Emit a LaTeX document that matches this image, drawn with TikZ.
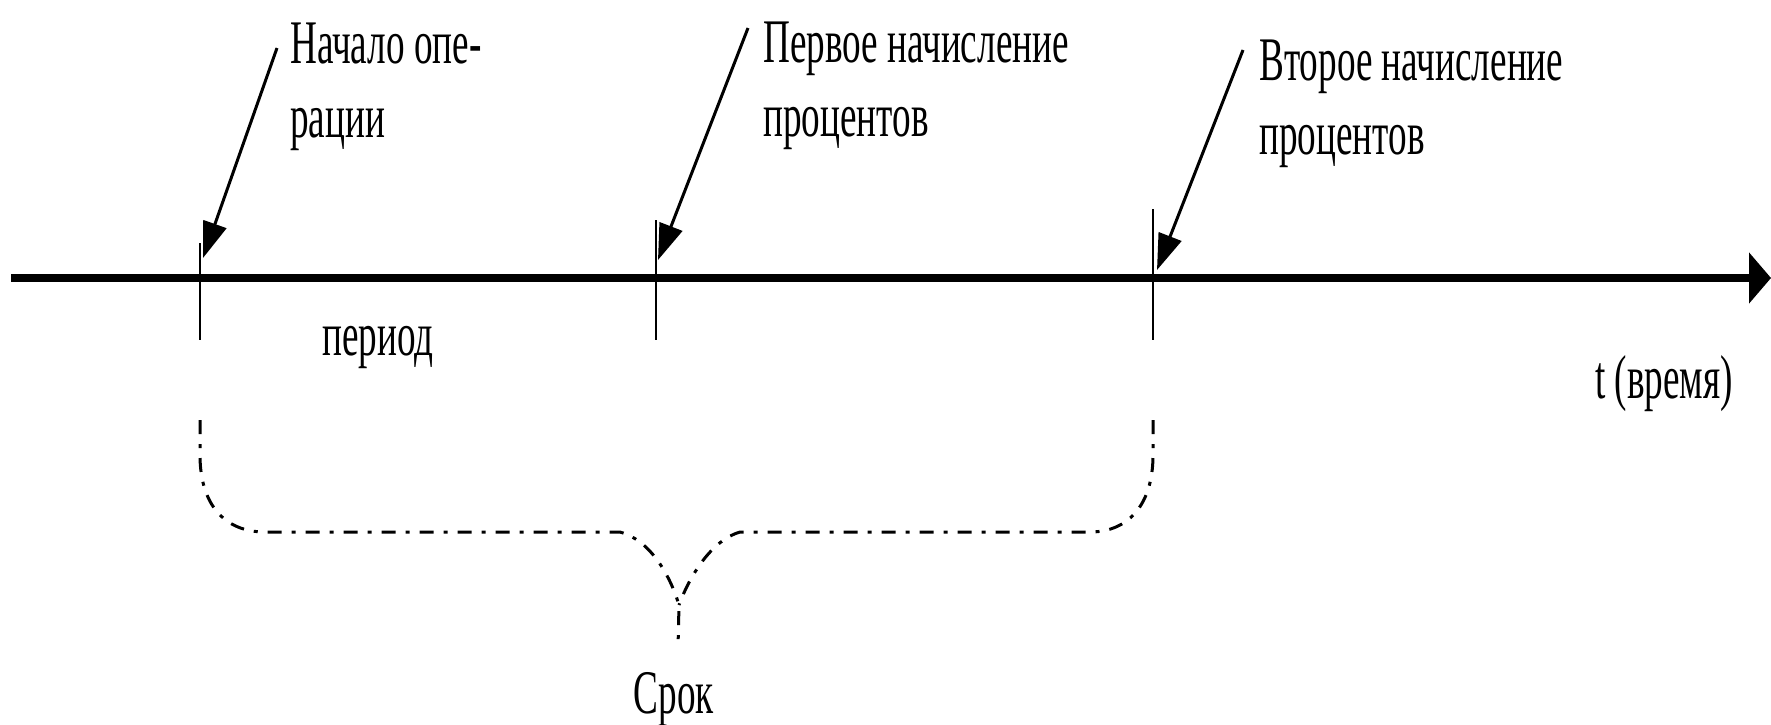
\documentclass[tikz,border=0pt]{standalone}
\usepackage{fontspec}
\setmainfont{Liberation Serif}
\newfontfamily\lbl[FakeStretch=0.6]{Liberation Serif}
\usetikzlibrary{arrows.meta}
\begin{document}
\begin{tikzpicture}[x=1pt,y=-1pt,
  axisline/.style={line width=8pt,-{Triangle[length=22pt,width=50pt]}},
  tickline/.style={line width=2.5pt},
  pointer/.style={line width=3pt,-{Triangle[length=36pt,width=24pt]}},
  bracepath/.style={line width=3pt,dash pattern=on 14pt off 10pt on 4pt off 10pt},
  txt/.style={inner sep=0pt,font=\lbl\fontsize{62}{74}\selectfont,align=left}]
\useasboundingbox[fill=white] (0,0) rectangle (1771,724);
% axis
\coordinate (axl) at (11,278);
\coordinate (axr) at (1771,278);
\draw[axisline] (axl) -- (axr);
% ticks
\coordinate (t1a) at (200,243); \coordinate (t1b) at (200,340);
\coordinate (t2a) at (656,220); \coordinate (t2b) at (656,340);
\coordinate (t3a) at (1153,209); \coordinate (t3b) at (1153,340);
\draw[tickline] (t1a) -- (t1b);
\draw[tickline] (t2a) -- (t2b);
\draw[tickline] (t3a) -- (t3b);
% labels (base anchor = baseline of the last line)
\node[txt,anchor=base west] (l1) at (290,137) {Начало опе-\\рации};
\node[txt,anchor=base west] (l2) at (763,136) {Первое начисление\\процентов};
\node[txt,anchor=base west] (l3) at (1259,154) {Второе начисление\\процентов};
\node[txt,anchor=base west] (per) at (322,355) {период};
\node[txt,anchor=base west] (tl) at (1595,398) {t (время)};
\node[txt,anchor=base] (srok) at (674,713) {Срок};
% pointers
\coordinate (p1s) at (277,48);  \coordinate (p1e) at (203,258);
\coordinate (p2s) at (748,28);  \coordinate (p2e) at (658,260);
\coordinate (p3s) at (1243,50); \coordinate (p3e) at (1157,270);
\draw[pointer] (p1s) -- (p1e);
\draw[pointer] (p2s) -- (p2e);
\draw[pointer] (p3s) -- (p3e);
% brace
\coordinate (bl) at (200,420);
\coordinate (br) at (1153,420);
\coordinate (bm) at (679,605);
\coordinate (btip) at (678,648);
\draw[bracepath] (bl) -- (200,455) .. controls (200,505) and (225,532) .. (265,532)
  -- (620,532) .. controls (650,540) and (670,575) .. (bm) -- (btip);
\draw[bracepath] (br) -- (1153,455) .. controls (1153,505) and (1128,532) .. (1090,532)
  -- (740,532) .. controls (712,540) and (690,575) .. (bm);
\end{tikzpicture}
\end{document}
